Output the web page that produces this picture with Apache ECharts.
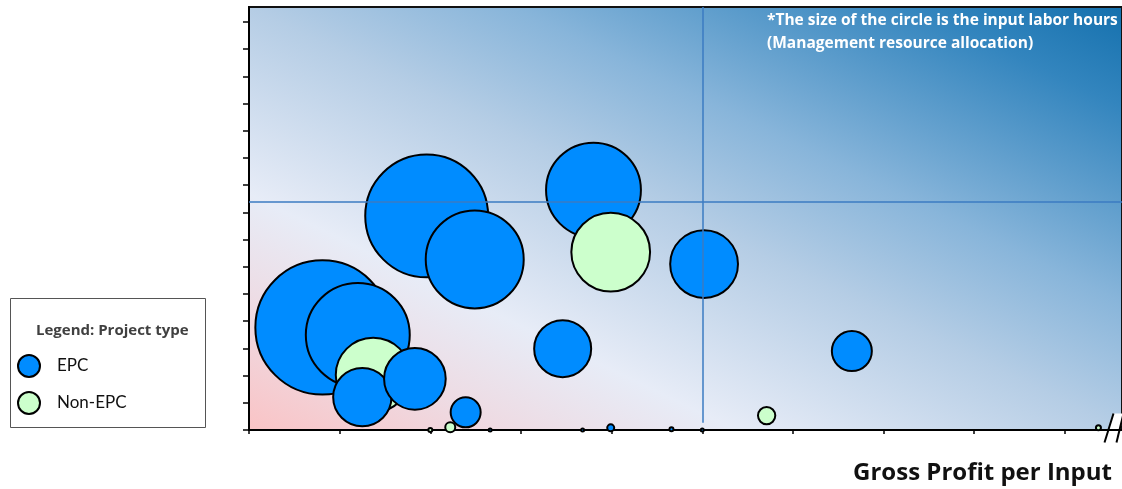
<!DOCTYPE html>
<html>
<head>
<meta charset="utf-8">
<script src="https://cdn.jsdelivr.net/npm/echarts@6/dist/echarts.min.js"></script>
<style>
html,body{margin:0;padding:0;background:#fff;}
#chart{width:1122px;height:489px;}
</style>
</head>
<body>
<div id="chart"></div>
<script>
// ---- data ----
const xTicks = [0, 1, 2, 3, 4, 5, 6, 7, 8, 9];
const yTicks = [0, 1, 2, 3, 4, 5, 6, 7, 8, 9, 10, 11, 12, 13, 14, 15];
const xMax = 9.63;
const yMax = 15.55;
const refX = 5.0;          // vertical reference line
const refY = 8.39;         // horizontal reference line
const refLineBottom = 0.27;

// EPC projects: gross profit per input (x), y value, input labor hours (size)
const epcX     = [0.81, 1.20, 1.25, 1.83, 1.96, 2.49, 2.39, 3.80, 5.02, 3.46, 6.65, 3.99, 4.66, 2.66, 3.68, 5.00];
const epcY     = [3.77, 3.49, 1.21, 1.88, 7.87, 6.27, 0.65, 8.82, 6.10, 2.99, 2.90, 0.08, 0.03, 0.00, 0.00, 0.00];
const epcHours = [180, 108, 34, 38, 151, 96, 9, 90, 46, 32.5, 16, 0.49, 0.16, 0.09, 0.09, 0.09];
const epcFront = [0, 0, 1, 1, 0, 0, 1, 0, 0, 0, 0, 0, 0, 0, 0, 0];

// Non-EPC projects
const nonX     = [1.37, 3.99, 5.71, 2.22, 2.00, 9.37];
const nonY     = [2.02, 6.54, 0.53, 0.10, 0.00, 0.08];
const nonHours = [56, 62, 3.0, 1.0, 0.16, 0.25];

const seriesNames = ['EPC', 'Non-EPC'];
const noteText = '*The size of the circle is the input labor hours\n(Management resource allocation)';
const xAxisTitle = 'Gross Profit per Input';
const legendTitle = 'Legend: Project type';

// ---- build ----
const FONT = 'Open Sans';
const sizeOf = v => Math.sqrt(v[2]) * 10;
function pts(xs, ys, hs, filter) {
  const out = [];
  for (let i = 0; i < xs.length; i++) {
    if (filter && !filter(i)) continue;
    out.push([xs[i], ys[i], hs[i]]);
  }
  return out;
}
const epcStyle = {color: '#008CFF', borderColor: '#000', borderWidth: 2, opacity: 1};
const nonStyle = {color: '#CCFFCC', borderColor: '#000', borderWidth: 2, opacity: 1};

const chart = echarts.init(document.getElementById('chart'), null, {renderer: 'canvas'});
chart.setOption({
  animation: false,
  textStyle: {fontFamily: FONT},
  grid: {
    left: 249, right: 0, top: 7, bottom: 59,
    show: true,
    backgroundColor: new echarts.graphic.LinearGradient(0.31, 1.31, 0.69, -0.31, [
      {offset: 0, color: '#fac3c5'},
      {offset: 0.15, color: '#eedbe3'},
      {offset: 0.28, color: '#e7ecf7'},
      {offset: 0.5, color: '#b5cde5'},
      {offset: 0.65, color: '#88b5da'},
      {offset: 0.88, color: '#3385be'},
      {offset: 1, color: '#1470ad'}
    ]),
    borderColor: '#111',
    borderWidth: 2
  },
  title: [
    {text: noteText, left: 767, top: 9, padding: 0,
     textStyle: {color: '#fff', fontSize: 15.5, fontWeight: 'bold', lineHeight: 23, fontFamily: FONT}},
    {text: xAxisTitle, right: 10, top: 461, padding: 0,
     textStyle: {color: '#111', fontSize: 24, fontWeight: 'bold', fontFamily: FONT}},
    {text: legendTitle, left: 36, top: 323, padding: 0,
     textStyle: {color: '#404040', fontSize: 15, fontWeight: 'bold', fontFamily: FONT}}
  ],
  legend: {
    data: seriesNames,
    orient: 'vertical',
    left: 17, top: 354,
    padding: 0,
    icon: 'circle',
    itemWidth: 22, itemHeight: 22, itemGap: 13,
    itemStyle: {borderColor: '#000', borderWidth: 2},
    textStyle: {fontSize: 17, color: '#111', padding: [0, 0, 0, 12], fontFamily: 'Lato'},
    selectedMode: false
  },
  xAxis: {
    type: 'value', min: 0, max: xMax, interval: 1,
    axisLine: {show: true, onZero: false, lineStyle: {color: '#000', width: 2}},
    axisTick: {show: true, customValues: xTicks, length: 4, lineStyle: {color: '#000', width: 1.5}},
    axisLabel: {show: false},
    splitLine: {show: false}
  },
  yAxis: {
    type: 'value', min: 0, max: yMax, interval: 1,
    axisLine: {show: true, onZero: false, lineStyle: {color: '#000', width: 2}},
    axisTick: {show: true, customValues: yTicks, length: 6, lineStyle: {color: '#000', width: 1.5}},
    axisLabel: {show: false},
    splitLine: {show: false}
  },
  graphic: [
    {type: 'rect', left: 8, top: 296, z: 0,
     shape: {width: 195, height: 129},
     style: {fill: 'none', stroke: '#555', lineWidth: 1}},
    {type: 'group', left: 1102, top: 411, z: 100, children: [
      {type: 'polygon', shape: {points: [[1, 29], [10, 0], [21, 0], [13, 29]]}, style: {fill: '#fff'}},
      {type: 'line', shape: {x1: 1, y1: 29, x2: 10, y2: 0}, style: {stroke: '#000', lineWidth: 2}},
      {type: 'line', shape: {x1: 13, y1: 29, x2: 20, y2: 0}, style: {stroke: '#000', lineWidth: 2}}
    ]}
  ],
  series: [
    {
      type: 'scatter', name: 'refLines', data: [], z: 1, silent: true,
      markLine: {
        silent: true, symbol: 'none', label: {show: false},
        lineStyle: {color: '#3b7bc2', width: 1.5, type: 'solid'},
        data: [
          [{coord: [0, refY]}, {coord: [xMax, refY]}],
          [{coord: [refX, refLineBottom]}, {coord: [refX, yMax]}]
        ]
      }
    },
    {type: 'scatter', name: seriesNames[0], z: 2, clip: false,
     data: pts(epcX, epcY, epcHours, i => !epcFront[i]),
     symbolSize: sizeOf, itemStyle: epcStyle, emphasis: {disabled: true}},
    {type: 'scatter', name: seriesNames[1], z: 3, clip: false,
     data: pts(nonX, nonY, nonHours),
     symbolSize: sizeOf, itemStyle: nonStyle, emphasis: {disabled: true}},
    {type: 'scatter', name: seriesNames[0], z: 4, clip: false,
     data: pts(epcX, epcY, epcHours, i => !!epcFront[i]),
     symbolSize: sizeOf, itemStyle: epcStyle, emphasis: {disabled: true}}
  ]
});
</script>
</body>
</html>
